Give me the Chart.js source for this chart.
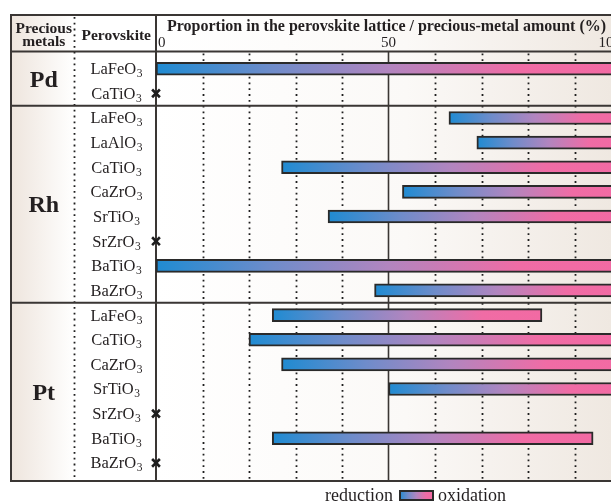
<!DOCTYPE html>
<html>
<head>
<meta charset="utf-8">
<script src="https://cdn.jsdelivr.net/npm/chart.js@4.4.1/dist/chart.umd.min.js"></script>
<style>
  html, body { margin: 0; padding: 0; background: #ffffff; overflow: hidden; }
  #wrap { width: 611px; height: 504px; overflow: hidden; position: relative; }
  canvas { display: block; }
</style>
</head>
<body>
<div id="wrap"><canvas id="c" width="650" height="504" style="width:650px;height:504px"></canvas></div>
<script>
// ---- data ---------------------------------------------------------------
const metals = ['Pd', 'Rh', 'Pt'];
const pdHosts = ['LaFeO3', 'CaTiO3'];
const rhHosts = ['LaFeO3', 'LaAlO3', 'CaTiO3', 'CaZrO3', 'SrTiO3', 'SrZrO3', 'BaTiO3', 'BaZrO3'];
const ptHosts = ['LaFeO3', 'CaTiO3', 'CaZrO3', 'SrTiO3', 'SrZrO3', 'BaTiO3', 'BaZrO3'];
// [after reduction, after oxidation] share of the metal inside the lattice (%); null = not dissolved
const pdRanges = [[0, 100], null];
const rhRanges = [[63, 100], [69, 100], [27, 100], [53, 100], [37, 100], null, [0, 100], [47, 100]];
const ptRanges = [[25, 83], [20, 100], [27, 100], [50, 100], null, [25, 94], null];
const xTickValues = [0, 50, 100];
const xGridValues = [10, 20, 30, 40, 60, 70, 80, 90];
const titleText = 'Proportion in the perovskite lattice / precious-metal amount (%)';
const headerMetal = ['Precious', 'metals'];
const headerHost = 'Perovskite';
const legendLeft = 'reduction';
const legendRight = 'oxidation';

// ---- derived tables -----------------------------------------------------
const hostGroups = [pdHosts, rhHosts, ptHosts];
const rangeGroups = [pdRanges, rhRanges, ptRanges];
const rowLabels = [];
const rowHosts = [];
hostGroups.forEach((hosts, g) => hosts.forEach(h => { rowLabels.push(metals[g] + ' ' + h); rowHosts.push(h); }));
const ranges = [].concat(...rangeGroups);
const missing = ranges.map(r => (r ? null : 0));

// ---- styling ------------------------------------------------------------
const FONT = '"Liberation Serif", "Times New Roman", Times, serif';
const INK = '#231f20';
const RULE = '#3a3634';
const FRAME = { left: 11, col: 74.5, top: 15, head: 51.5, bottom: 481, visibleRight: 611 };

function addBarStops(g) {
  g.addColorStop(0, '#1f8bd2');
  g.addColorStop(0.25, '#6f8cca');
  g.addColorStop(0.5, '#b285bf');
  g.addColorStop(0.78, '#f06ca5');
  g.addColorStop(1, '#f26aa3');
}

function barFill(ctx) {
  const chart = ctx.chart;
  const raw = ctx.raw;
  if (!chart.chartArea || !raw) return '#1f8bd2';
  const xs = chart.scales.x;
  const a = xs.getPixelForValue(raw[0]);
  const b = xs.getPixelForValue(raw[1]);
  const g = chart.ctx.createLinearGradient(a, 0, b, 0);
  addBarStops(g);
  return g;
}

function sectionLines(y) {
  // boundaries between metal groups sit halfway between neighbouring rows
  const out = [FRAME.head];
  let idx = 0;
  hostGroups.forEach((hosts, g) => {
    idx += hosts.length;
    if (g < hostGroups.length - 1) {
      out.push((y.getPixelForValue(idx - 1) + y.getPixelForValue(idx)) / 2);
    }
  });
  out.push(FRAME.bottom);
  return out;
}

function drawFormula(ctx, s, cx, base) {
  const m = s.match(/^(.*?)(\d+)$/);
  const main = m ? m[1] : s;
  const sub = m ? m[2] : '';
  ctx.font = '16.5px ' + FONT;
  const w1 = ctx.measureText(main).width;
  ctx.font = '11.5px ' + FONT;
  const w2 = ctx.measureText(sub).width;
  const start = cx - (w1 + w2) / 2;
  ctx.textAlign = 'left';
  ctx.font = '16.5px ' + FONT;
  ctx.fillText(main, start, base);
  ctx.font = '11.5px ' + FONT;
  ctx.fillText(sub, start + w1 + 0.5, base + 3);
}

const tableDecor = {
  id: 'tableDecor',
  beforeDatasetsDraw(chart) {
    const { ctx, scales: { x, y } } = chart;
    const W = chart.width;
    const x0 = x.getPixelForValue(0);
    const lines = sectionLines(y);
    ctx.save();

    // panel shading
    let g = ctx.createLinearGradient(x0, 0, FRAME.visibleRight, 0);
    g.addColorStop(0, '#ffffff');
    g.addColorStop(0.55, '#fbf9f7');
    g.addColorStop(1, '#efe8e1');
    ctx.fillStyle = g;
    ctx.fillRect(x0, FRAME.top, W - x0, FRAME.bottom - FRAME.top);
    g = ctx.createLinearGradient(FRAME.left, 0, FRAME.col, 0);
    g.addColorStop(0, '#eee5dd');
    g.addColorStop(1, '#ffffff');
    ctx.fillStyle = g;
    ctx.fillRect(FRAME.left, FRAME.top, FRAME.col - FRAME.left, FRAME.bottom - FRAME.top);

    // dotted guides
    ctx.strokeStyle = '#1e1e1e';
    ctx.lineWidth = 1.8;
    ctx.setLineDash([1.8, 4]);
    xGridValues.forEach(v => {
      const px = Math.round(x.getPixelForValue(v)) + 0.5;
      ctx.beginPath();
      ctx.moveTo(px, FRAME.head + 2);
      ctx.lineTo(px, FRAME.bottom - 1);
      ctx.stroke();
    });
    ctx.beginPath();
    ctx.moveTo(FRAME.col, FRAME.top + 2);
    ctx.lineTo(FRAME.col, FRAME.bottom - 1);
    ctx.stroke();
    ctx.setLineDash([]);

    // solid 50 % guide
    const p50 = x.getPixelForValue(50);
    ctx.strokeStyle = RULE;
    ctx.lineWidth = 1.6;
    ctx.beginPath();
    ctx.moveTo(p50, FRAME.head);
    ctx.lineTo(p50, FRAME.bottom);
    ctx.stroke();

    // frame and section rules
    ctx.lineWidth = 2;
    ctx.beginPath();
    [FRAME.top].concat(lines).forEach(py => {
      ctx.moveTo(FRAME.left - 1, py);
      ctx.lineTo(W, py);
    });
    ctx.moveTo(FRAME.left, FRAME.top);
    ctx.lineTo(FRAME.left, FRAME.bottom);
    ctx.moveTo(x0, FRAME.top);
    ctx.lineTo(x0, FRAME.bottom);
    ctx.stroke();
    ctx.restore();
  },
  afterDraw(chart) {
    const { ctx, scales: { x, y } } = chart;
    const lines = sectionLines(y);
    ctx.save();
    ctx.fillStyle = INK;
    ctx.textBaseline = 'alphabetic';

    // header
    const metalCx = (FRAME.left + FRAME.col) / 2 + 1;
    const hostCx = (FRAME.col + x.getPixelForValue(0)) / 2 + 1;
    ctx.font = 'bold 15.5px ' + FONT;
    ctx.textAlign = 'center';
    ctx.fillText(headerMetal[0], metalCx, 33);
    ctx.fillText(headerMetal[1], metalCx, 46);
    ctx.fillText(headerHost, hostCx, 39.5);
    ctx.font = 'bold 16px ' + FONT;
    ctx.textAlign = 'left';
    ctx.fillText(titleText, x.getPixelForValue(0) + 11, 31);

    ctx.font = '15px ' + FONT;
    xTickValues.forEach((v, i) => {
      ctx.textAlign = i === 0 ? 'left' : (i === xTickValues.length - 1 ? 'right' : 'center');
      const px = x.getPixelForValue(v) + (i === 0 ? 2 : 0);
      ctx.fillText(String(v), px, 46.5);
    });

    // metal names
    ctx.font = 'bold 24px ' + FONT;
    ctx.textAlign = 'center';
    metals.forEach((m, i) => {
      const cy = (lines[i] + lines[i + 1]) / 2;
      ctx.fillText(m, metalCx, cy + 8);
    });

    // host names
    rowHosts.forEach((h, i) => {
      drawFormula(ctx, h, hostCx, y.getPixelForValue(i) + 5.5);
    });

    // legend
    const ly = 490, lh = 11, lx = 399, lw = 35;
    ctx.font = '18px ' + FONT;
    ctx.textAlign = 'right';
    ctx.fillText(legendLeft, lx - 6, 501);
    ctx.textAlign = 'left';
    ctx.fillText(legendRight, lx + lw + 4, 501);
    const g = ctx.createLinearGradient(lx, 0, lx + lw, 0);
    addBarStops(g);
    ctx.fillStyle = g;
    ctx.fillRect(lx, ly, lw, lh);
    ctx.strokeStyle = '#2a2a2a';
    ctx.lineWidth = 2;
    ctx.strokeRect(lx + 1, ly + 1, lw - 2, lh - 2);
    ctx.restore();
  }
};

new Chart(document.getElementById('c'), {
  type: 'bar',
  data: {
    labels: rowLabels,
    datasets: [
      {
        type: 'line',
        label: 'not dissolved',
        data: missing,
        indexAxis: 'y',
        clip: false,
        showLine: false,
        pointStyle: 'crossRot',
        pointRadius: 5.5,
        pointBorderWidth: 2.6,
        pointBorderColor: '#1e1e1e',
        pointBackgroundColor: '#1e1e1e'
      },
      {
        label: 'proportion',
        data: ranges,
        backgroundColor: barFill,
        borderColor: '#2a2a2a',
        borderWidth: 2,
        borderSkipped: false,
        barThickness: 13
      }
    ]
  },
  options: {
    indexAxis: 'y',
    responsive: false,
    animation: false,
    devicePixelRatio: 1,
    layout: { padding: { left: 156, right: 29, top: 56.4, bottom: 28.8 } },
    scales: {
      x: { type: 'linear', min: 0, max: 100, display: false },
      y: { type: 'category', display: false, offset: true }
    },
    plugins: { legend: { display: false }, tooltip: { enabled: false } }
  },
  plugins: [tableDecor]
});
</script>
</body>
</html>
